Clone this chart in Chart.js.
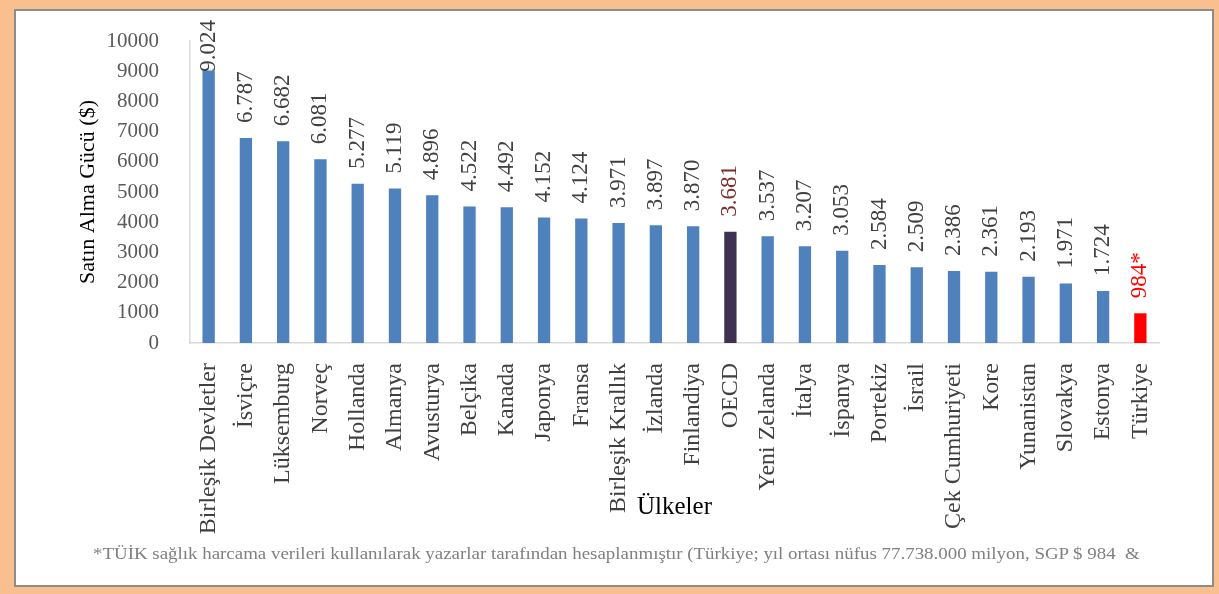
<!DOCTYPE html>
<html>
<head>
<meta charset="utf-8">
<script src="https://cdn.jsdelivr.net/npm/chart.js@4"></script>
<style>
    body { margin: 0; background: #f9bf8f; width: 1219px; height: 594px; overflow: hidden; }
    #box { position: absolute; left: 14px; top: 9px; width: 1196px; height: 574px; background: #fff; border: 2px solid #8c8c8c; }
    #chart { position: absolute; left: 0; top: 0; }
    #note { position: absolute; left: 93px; top: 545px; font-family: "Liberation Serif"; font-size: 16px; color: #808080; white-space: pre; transform-origin: left top; }
</style>
</head>
<body>
<div id="box"></div>
<canvas id="chart" width="1219" height="594"></canvas>
<div id="note">*TÜİK sağlık harcama verileri kullanılarak yazarlar tarafından hesaplanmıştır (Türkiye; yıl ortası nüfus 77.738.000 milyon, SGP $ 984  &amp;</div>
<script>
// Data
const countries = ['Birleşik Devletler', 'İsviçre', 'Lüksemburg', 'Norveç', 'Hollanda', 'Almanya', 'Avusturya', 'Belçika', 'Kanada', 'Japonya', 'Fransa', 'Birleşik Krallık', 'İzlanda', 'Finlandiya', 'OECD', 'Yeni Zelanda', 'İtalya', 'İspanya', 'Portekiz', 'İsrail', 'Çek Cumhuriyeti', 'Kore', 'Yunanistan', 'Slovakya', 'Estonya', 'Türkiye'];
const values = [9024, 6787, 6682, 6081, 5277, 5119, 4896, 4522, 4492, 4152, 4124, 3971, 3897, 3870, 3681, 3537, 3207, 3053, 2584, 2509, 2386, 2361, 2193, 1971, 1724, 984];
const valueLabels = ['9.024', '6.787', '6.682', '6.081', '5.277', '5.119', '4.896', '4.522', '4.492', '4.152', '4.124', '3.971', '3.897', '3.870', '3.681', '3.537', '3.207', '3.053', '2.584', '2.509', '2.386', '2.361', '2.193', '1.971', '1.724', '984*'];
const yTicks = [0, 1000, 2000, 3000, 4000, 5000, 6000, 7000, 8000, 9000, 10000];

// Colours: OECD and Türkiye stand out
function barColor(name) {
    if (name === 'OECD') return '#3f3151';
    if (name === 'Türkiye') return '#ff0000';
    return '#4f81bd';
}
function labelColor(name) {
    if (name === 'OECD') return '#7b2c2c';
    if (name === 'Türkiye') return '#ff0000';
    return '#404040';
}

// Rotated value labels above each bar
const valueLabelPlugin = {
    id: 'valueLabels',
    afterDatasetsDraw(chart) {
        const ctx = chart.ctx;
        const meta = chart.getDatasetMeta(0);
        ctx.save();
        ctx.font = '23px "Liberation Serif"';
        ctx.textAlign = 'left';
        ctx.textBaseline = 'middle';
        meta.data.forEach((bar, i) => {
            const text = valueLabels[i];
            const w = ctx.measureText(text).width;
            let start = bar.y - 15;
            if (start - w < 20) start = 20 + w;
            ctx.save();
            ctx.translate(bar.x, start);
            ctx.rotate(-Math.PI / 2);
            ctx.fillStyle = labelColor(countries[i]);
            ctx.fillText(text, 0, 0);
            ctx.restore();
        });
        ctx.restore();
    }
};

new Chart(document.getElementById('chart'), {
    type: 'bar',
    data: {
        labels: countries,
        datasets: [{
            data: values,
            backgroundColor: countries.map(barColor),
            barPercentage: 0.33,
            categoryPercentage: 1
        }]
    },
    options: {
        responsive: false,
        animation: false,
        devicePixelRatio: 1,
        layout: { padding: { left: 20, right: 60, top: 41, bottom: 60 } },
        plugins: { legend: { display: false }, tooltip: { enabled: false } },
        scales: {
            x: {
                grid: { display: false },
                border: { display: true, color: '#d9d9d9', width: 1.5 },
                ticks: {
                    autoSkip: false,
                    minRotation: 90,
                    maxRotation: 90,
                    padding: 12,
                    color: '#404040',
                    font: { family: 'Liberation Serif', size: 24 }
                },
                title: {
                    display: true,
                    text: 'Ülkeler',
                    color: '#000',
                    font: { family: 'Liberation Serif', size: 25, weight: 'normal' },
                    padding: { top: 0, bottom: 12 }
                },
                afterFit: s => { s.height = 191; }
            },
            y: {
                min: 0,
                max: 10000,
                grid: { display: false },
                border: { display: true, color: '#d9d9d9', width: 1.5 },
                ticks: {
                    stepSize: 1000,
                    padding: 23,
                    color: '#595959',
                    font: { family: 'Liberation Serif', size: 21 },
                    callback: v => yTicks.includes(v) ? String(v) : ''
                },
                title: {
                    display: true,
                    text: 'Satın Alma Gücü ($)',
                    color: '#000',
                    font: { family: 'Liberation Serif', size: 22, weight: 'normal' },
                    padding: { top: 55, bottom: 0 }
                },
                afterFit: s => { s.width = 170; }
            }
        }
    },
    plugins: [valueLabelPlugin]
});

// stretch footnote to the width it spans in the original
const note = document.getElementById('note');
note.style.transform = 'scaleX(' + (1047 / note.scrollWidth) + ')';
</script>
</body>
</html>
